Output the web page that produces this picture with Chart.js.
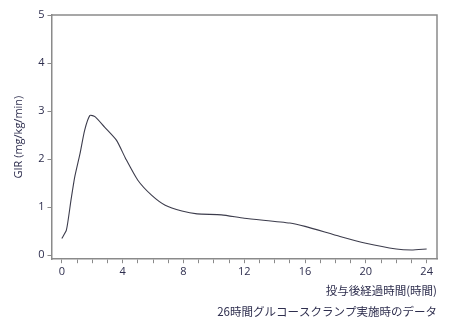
<!DOCTYPE html>
<html><head><meta charset="utf-8">
<script src="https://cdn.jsdelivr.net/npm/chart.js@4"></script>
<style>html,body{margin:0;padding:0;background:#fff;}#wrap{width:457px;height:323px;}</style>
</head><body><div id="wrap"><canvas id="c"></canvas></div>
<script>
const hours = [0,0.3,0.6,0.85,1.2,1.5,1.85,2.2,2.8,3.6,4.2,5,5.9,6.8,7.9,8.9,10.5,12,15,16,18.3,20,22,23,24];
const gir = [0.35,0.52,1.14,1.63,2.12,2.6,2.91,2.88,2.67,2.39,2.01,1.56,1.25,1.04,0.92,0.86,0.84,0.77,0.67,0.6,0.39,0.25,0.13,0.11,0.13];
const xMajorTicks = [0,4,8,12,16,20,24];
const xMinorTicks = [0,1,2,3,4,5,6,7,8,9,10,11,12,13,14,15,16,17,18,19,20,21,22,23,24];
const yTicks = [0,1,2,3,4,5];
const xTitle = '投与後経過時間(時間)';
const yTitle = 'GIR (mg/kg/min)';
const note = '26時間グルコースクランプ実施時のデータ';

const ink = '#2e2e4e';
const frame = {
  id:'frame',
  afterDraw(chart){
    const {ctx, chartArea:a} = chart;
    ctx.save();
    ctx.strokeStyle = '#8a8a8a';
    ctx.lineWidth = 1.5;
    ctx.beginPath();
    ctx.moveTo(a.left, a.top); ctx.lineTo(a.right, a.top); ctx.lineTo(a.right, a.bottom);
    ctx.stroke();
    ctx.restore();
  }
};
new Chart(document.getElementById('c'), {
  type:'line',
  data:{datasets:[{data: hours.map((h,i)=>({x:h,y:gir[i]})), borderColor:'#3c3c4c', borderWidth:1.1, pointRadius:0, tension:0.2, fill:false}]},
  options:{
    responsive:true, maintainAspectRatio:false, animation:false,
    layout:{padding:{left:12,right:20,top:15,bottom:4}},
    plugins:{legend:{display:false}, tooltip:{enabled:false},
      title:{display:true, text:note, position:'bottom', align:'end', color:ink, font:{family:'Noto Sans CJK JP', size:11.5, weight:'normal'}, padding:{top:6,bottom:0}}},
    scales:{
      x:{type:'linear', min:-0.68, max:24.68,
        afterBuildTicks(s){ s.ticks = xMinorTicks.map(v=>({value:v})); },
        ticks:{autoSkip:false, maxRotation:0, color:ink, font:{family:'Open Sans', size:11}, padding:2,
          callback:(v)=> xMajorTicks.includes(v) ? String(v) : ''},
        grid:{drawOnChartArea:false, drawTicks:true, tickLength:4, color:'#8a8a8a', lineWidth:1},
        border:{display:true, color:'#8a8a8a', width:1.5},
        title:{display:true, text:xTitle, align:'end', color:ink, font:{family:'Noto Sans CJK JP', size:11.5}, padding:{top:3,bottom:2}}
      },
      y:{type:'linear', min:-0.083, max:5,
        afterBuildTicks(s){ s.ticks = yTicks.map(v=>({value:v})); },
        ticks:{color:ink, font:{family:'Open Sans', size:11}, padding:3},
        grid:{drawOnChartArea:false, drawTicks:true, tickLength:4, color:'#8a8a8a', lineWidth:1},
        border:{display:true, color:'#8a8a8a', width:1.5},
        title:{display:true, text:yTitle, color:ink, font:{family:'Open Sans', size:11}, padding:{top:0,bottom:10}}
      }
    }
  },
  plugins:[frame]
});
</script></body></html>
